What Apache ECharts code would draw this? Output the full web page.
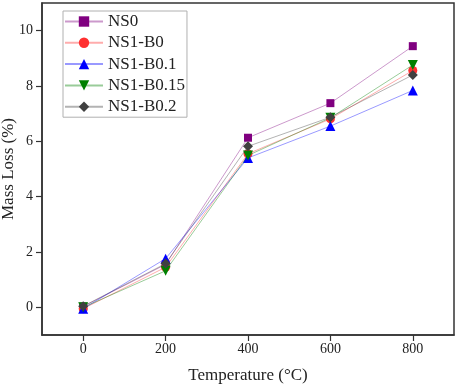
<!DOCTYPE html>
<html>
<head>
<meta charset="utf-8">
<script src="https://cdn.jsdelivr.net/npm/echarts@6/dist/echarts.min.js"></script>
<style>html,body{margin:0;padding:0;background:#fff;}#c{width:457px;height:386px;}</style>
</head>
<body>
<div id="c"></div>
<script>
var temps = [0, 200, 400, 600, 800];
var seriesNames = ['NS0', 'NS1-B0', 'NS1-B0.1', 'NS1-B0.15', 'NS1-B0.2'];
var ns0 = [0.03, 1.55, 6.13, 7.38, 9.44];
var ns1b0 = [-0.05, 1.45, 5.55, 6.81, 8.56];
var ns1b01 = [-0.05, 1.76, 5.40, 6.55, 7.84];
var ns1b015 = [0.0, 1.32, 5.49, 6.85, 8.76];
var ns1b02 = [0.04, 1.58, 5.82, 6.87, 8.40];
var xTicks = [0, 200, 400, 600, 800];
var yTicks = [0, 2, 4, 6, 8, 10];

var font = 'Liberation Serif, Times New Roman, serif';
var colors = ['#800080', '#ff3030', '#0000ff', '#008000', '#404040'];
var symbols = ['rect', 'circle', 'triangle', 'path://M0,0 L10,0 L5,10 Z', 'diamond'];
var sizes = [8, 9, 10, 10, 10];
var values = [ns0, ns1b0, ns1b01, ns1b015, ns1b02];

function pairs(v) { return temps.map(function (t, i) { return [t, v[i]]; }); }

var series = values.map(function (v, i) {
  return {
    name: seriesNames[i],
    type: 'line',
    data: pairs(v),
    symbol: symbols[i],
    symbolSize: sizes[i],
    showAllSymbol: true,
    itemStyle: { color: colors[i], opacity: 1 },
    lineStyle: { color: colors[i], width: 1, opacity: 0.4 },
    emphasis: { disabled: true },
    z: 2 + i
  };
});

var chart = echarts.init(document.getElementById('c'), null, { renderer: 'canvas' });
chart.setOption({
  animation: false,
  backgroundColor: '#fff',
  grid: { left: 42, right: 3, top: 3, bottom: 51, containLabel: false, outerBoundsMode: 'none', show: true, borderColor: '#333', borderWidth: 1.5, backgroundColor: 'transparent' },
  legend: {
    orient: 'vertical',
    left: 63, top: 11,
    padding: [0, 2, 0, 1],
    itemWidth: 38, itemHeight: 13, itemGap: 0.3,
    borderColor: '#b0b0b0', borderWidth: 1,
    backgroundColor: '#fff',
    textStyle: { fontFamily: font, fontSize: 17, color: '#222', lineHeight: 21 },
    data: seriesNames
  },
  xAxis: {
    type: 'value', min: -100, max: 900,
    name: 'Temperature (°C)', nameLocation: 'middle', nameGap: 32, nameMoveOverlap: false,
    nameTextStyle: { fontFamily: font, fontSize: 17, color: '#222' },
    axisLine: { show: true, onZero: false, lineStyle: { color: '#333', width: 1.5 } },
    axisTick: { show: true, inside: false, length: 6, customValues: xTicks, lineStyle: { color: '#333', width: 1.2 } },
    axisLabel: { customValues: xTicks, margin: 7, fontFamily: font, fontSize: 14, color: '#222' },
    splitLine: { show: false }
  },
  yAxis: {
    type: 'value', min: -1, max: 11,
    name: 'Mass Loss (%)', nameLocation: 'middle', nameGap: 25, nameMoveOverlap: false,
    nameTextStyle: { fontFamily: font, fontSize: 17, color: '#222' },
    axisLine: { show: true, onZero: false, lineStyle: { color: '#333', width: 1.5 } },
    axisTick: { show: true, inside: false, length: 6, customValues: yTicks, lineStyle: { color: '#333', width: 1.2 } },
    axisLabel: { customValues: yTicks, margin: 9, fontFamily: font, fontSize: 14, color: '#222' },
    splitLine: { show: false }
  },
  series: series
});
</script>
</body>
</html>
